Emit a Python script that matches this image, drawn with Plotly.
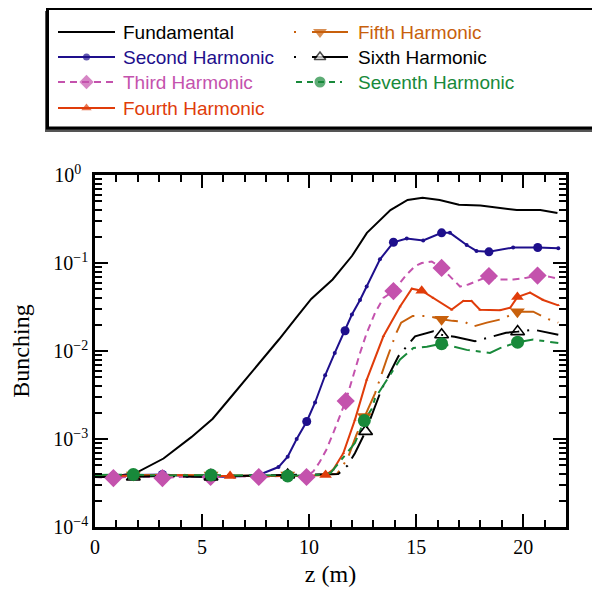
import plotly.graph_objects as go

# ---------------- data ----------------
fund_z = [0, 1.0, 1.9, 3.2, 4.5, 5.5, 6.4, 7.6, 8.6, 9.4, 10.1, 11.1, 12.0, 12.7, 13.8, 14.6,
          15.3, 16.1, 17.0, 18.0, 19.0, 19.7, 20.8, 21.6]
fund_b = [3.7e-4, 3.8e-4, 4.1e-4, 6.0e-4, 1.05e-3, 1.7e-3, 3.1e-3, 6.9e-3, 1.36e-2, 2.4e-2,
          3.9e-2, 6.5e-2, 0.12, 0.22, 0.40, 0.52, 0.55, 0.52, 0.46, 0.45, 0.42, 0.40, 0.40, 0.37]

sec_z = [0, 0.86, 2.0, 3.15, 4.3, 5.4, 6.5, 7.65, 8.57, 9.0, 9.42, 9.89, 10.28, 10.75, 11.2,
         11.68, 12.0, 12.38, 12.69, 13.31, 13.94, 14.56, 15.33, 16.19, 16.58, 17.36, 17.82,
         18.40, 19.53, 20.68, 21.64]
sec_b = [3.9e-4, 3.8e-4, 3.9e-4, 3.95e-4, 3.8e-4, 3.7e-4, 3.75e-4, 3.9e-4, 4.8e-4, 6.3e-4,
         1.0e-3, 1.58e-3, 2.6e-3, 5.3e-3, 9.5e-3, 1.7e-2, 2.6e-2, 3.8e-2, 5.4e-2, 0.11, 0.172,
         0.19, 0.18, 0.22, 0.22, 0.16, 0.137, 0.134, 0.15, 0.15, 0.147]
sec_mz = [0.86, 3.15, 5.4, 7.65, 9.89, 11.68, 13.94, 16.19, 18.40, 20.68]
sec_mb = [3.8e-4, 3.95e-4, 3.7e-4, 3.9e-4, 1.58e-3, 1.7e-2, 0.172, 0.22, 0.134, 0.15]

thi_z = [0, 0.86, 2.0, 3.15, 4.3, 5.4, 6.5, 7.65, 8.8, 9.88, 10.2, 10.5, 10.8, 11.13, 11.71,
         11.99, 12.38, 12.69, 13.08, 13.47, 13.94, 14.56, 14.95, 15.26, 15.73, 16.19, 16.66,
         17.05, 17.44, 17.82, 18.40, 18.92, 19.54, 20.16, 20.67, 21.2, 21.64]
thi_b = [3.7e-4, 3.6e-4, 3.8e-4, 3.6e-4, 3.75e-4, 3.7e-4, 3.8e-4, 3.7e-4, 3.8e-4, 3.7e-4,
         4.3e-4, 5.5e-4, 7.5e-4, 1.17e-3, 2.7e-3, 4.7e-3, 9.5e-3, 1.6e-2, 2.7e-2, 4.0e-2,
         4.8e-2, 0.074, 0.092, 0.100, 0.104, 0.088, 0.068, 0.054, 0.057, 0.062, 0.071, 0.065,
         0.065, 0.068, 0.072, 0.070, 0.066]
thi_mz = [0.86, 3.15, 5.4, 7.65, 9.88, 11.71, 13.94, 16.19, 18.40, 20.67]
thi_mb = [3.6e-4, 3.6e-4, 3.7e-4, 3.7e-4, 3.7e-4, 2.7e-3, 4.8e-2, 0.088, 0.071, 0.072]

fou_z = [0, 1.84, 3.0, 4.2, 5.3, 6.31, 7.5, 8.6, 9.7, 10.77, 11.13, 11.6, 12.14, 12.69, 13.47,
         14.25, 14.8, 15.26, 15.8, 16.66, 17.2, 17.59, 17.98, 18.92, 19.39, 19.73, 20.32, 20.93,
         21.64]
fou_b = [3.8e-4, 3.8e-4, 3.85e-4, 3.9e-4, 3.8e-4, 3.8e-4, 3.8e-4, 3.85e-4, 3.8e-4, 3.9e-4,
         4.5e-4, 6.9e-4, 1.65e-3, 4.7e-3, 1.47e-2, 3.2e-2, 0.051, 0.0485, 0.040, 0.0295, 0.037,
         0.037, 0.0295, 0.029, 0.031, 0.041, 0.046, 0.038, 0.033]
fou_mz = [1.84, 6.31, 10.77, 15.26, 19.73]
fou_mb = [3.8e-4, 3.8e-4, 3.9e-4, 0.0485, 0.041]

fif_z = [0, 1.79, 3.0, 4.2, 5.42, 6.6, 7.8, 9.0, 10.3, 11.3, 11.8, 12.2, 12.58, 13.08, 13.62,
         14.07, 14.3, 14.84, 15.54, 16.19, 16.7, 17.25, 17.67, 18.3, 19.0, 19.73, 20.47, 21.17,
         21.64]
fif_b = [3.8e-4, 3.9e-4, 3.9e-4, 3.85e-4, 3.9e-4, 3.85e-4, 3.8e-4, 3.9e-4, 3.9e-4, 4.0e-4,
         6.0e-4, 1.1e-3, 1.8e-3, 3.3e-3, 8.0e-3, 1.6e-2, 0.021, 0.025, 0.025, 0.023, 0.022,
         0.0216, 0.019, 0.021, 0.023, 0.028, 0.028, 0.023, 0.021]
fif_mz = [1.79, 5.42, 9.0, 12.58, 16.19, 19.73]
fif_mb = [3.9e-4, 3.9e-4, 3.9e-4, 1.8e-3, 0.023, 0.028]

six_z = [0, 1.79, 3.0, 4.2, 5.42, 6.5, 7.65, 9.0, 10.3, 11.36, 11.8, 12.14, 12.64, 13.37, 14.17,
         14.95, 15.8, 16.19, 16.8, 17.75, 18.6, 19.2, 19.74, 20.47, 21.64]
six_b = [3.7e-4, 3.7e-4, 3.8e-4, 3.75e-4, 3.7e-4, 3.8e-4, 3.85e-4, 3.9e-4, 3.9e-4, 4.0e-4,
         5.0e-4, 6.9e-4, 1.22e-3, 3.6e-3, 8.7e-3, 0.0147, 0.0167, 0.0153, 0.0145, 0.0129,
         0.0147, 0.0161, 0.0166, 0.0175, 0.0153]
six_mz = [1.79, 5.42, 9.0, 12.64, 16.19, 19.74]
six_mb = [3.7e-4, 3.7e-4, 3.9e-4, 1.22e-3, 0.0153, 0.0166]

sev_z = [0, 1.79, 3.0, 4.2, 5.42, 6.5, 7.65, 9.0, 10.3, 11.0, 11.6, 12.14, 12.58, 12.93, 13.08,
         14.25, 14.87, 15.5, 16.19, 17.36, 18.45, 18.92, 19.74, 20.47, 21.64]
sev_b = [3.9e-4, 3.95e-4, 3.85e-4, 3.9e-4, 3.9e-4, 3.85e-4, 3.9e-4, 3.8e-4, 3.9e-4, 4.1e-4,
         6.3e-4, 9e-4, 1.62e-3, 2.2e-3, 2.9e-3, 8e-3, 0.0108, 0.0112, 0.0121, 0.0103, 0.0095,
         0.0108, 0.0126, 0.0135, 0.0123]
sev_mz = [1.79, 5.42, 9.0, 12.58, 16.19, 19.74]
sev_mb = [3.95e-4, 3.9e-4, 3.8e-4, 1.62e-3, 0.0121, 0.0126]

x_ticks = [0, 5, 10, 15, 20]
y_ticks = [1e-4, 1e-3, 1e-2, 1e-1, 1]
y_ticktext = ["10<sup>\u22124</sup>", "10<sup>\u22123</sup>", "10<sup>\u22122</sup>",
              "10<sup>\u22121</sup>", "10<sup>0\u2007</sup>"]
y_minor = [m * 10.0 ** e for e in range(-4, 0) for m in range(2, 10)]

# ---------------- layout geometry (page pixels) ----------------
W, H = 600, 591
PAGE_OFF = 8                         # page body margin in the browser
PL, PT, PR, PB = 95, 175, 566, 527   # plot area on the page
X_DOMAIN = [(PL - PAGE_OFF) / W, (PR - PAGE_OFF) / W]
Y_DOMAIN = [(H + PAGE_OFF - PB) / H, (H + PAGE_OFF - PT) / H]
PAGE_X = [PAGE_OFF, PAGE_OFF + W]    # page x-range of the whole figure
PAGE_Y = [PAGE_OFF + H, PAGE_OFF]    # page y-range (bottom, top) of the whole figure

C_FUND = "#000000"
C_SEC = "#1e0f8c"
C_THI = "#c452ad"
C_FOU = "#e03c0a"
C_FIF = "#c8600c"
C_SIX = "#000000"
C_SEV = "#18893a"

series = [
    # name, color, dash, z, b, mz, mb, symbol, msize, small-dot size
    ("Fundamental", C_FUND, "solid", fund_z, fund_b, None, None, None, 0, 0),
    ("Second Harmonic", C_SEC, "solid", sec_z, sec_b, sec_mz, sec_mb, "circle", 9, 4),
    ("Third Harmonic", C_THI, "7px,5px", thi_z, thi_b, thi_mz, thi_mb, "diamond", 14, 0),
    ("Fourth Harmonic", C_FOU, "solid", fou_z, fou_b, fou_mz, fou_mb, "triangle-up", 11, 3),
    ("Fifth Harmonic", C_FIF, "26px,8px,2px,8px", fif_z, fif_b, fif_mz, fif_mb, "triangle-down", 13, 0),
    ("Sixth Harmonic", C_SIX, "26px,8px,2px,8px", six_z, six_b, six_mz, six_mb, "triangle-up-open", 12, 0),
    ("Seventh Harmonic", C_SEV, "16px,6px,5px,6px", sev_z, sev_b, sev_mz, sev_mb, "circle", 13, 0),
]

# legend layout (page pixel positions of the hand-built legend box)
LEG_ROWS = [32, 57, 82, 108]
LEG_COL1 = dict(line=(58, 115), mark=86.5, text=121)
LEG_COL2 = dict(line=(294, 348), mark=320, text=356)
leg_cells = {  # name: (column, row, legend-line dash, legend-line x-span, legend marker size)
    "Fundamental": (LEG_COL1, 0, "solid", LEG_COL1["line"], 0),
    "Second Harmonic": (LEG_COL1, 1, "solid", LEG_COL1["line"], 7),
    "Third Harmonic": (LEG_COL1, 2, "7px,5px", LEG_COL1["line"], 11),
    "Fourth Harmonic": (LEG_COL1, 3, "solid", LEG_COL1["line"], 9),
    "Fifth Harmonic": (LEG_COL2, 0, "2px,16px,60px", LEG_COL2["line"], 12),
    "Sixth Harmonic": (LEG_COL2, 1, "2px,16px,60px", LEG_COL2["line"], 10),
    "Seventh Harmonic": (LEG_COL2, 2, "6px,5px", (296, 342), 11),
}

fig = go.Figure()

for name, col, dash, z, b, mz, mb, sym, ms, sd in series:
    fig.add_trace(go.Scatter(
        x=z, y=b, mode="lines+markers" if sd else "lines",
        line=dict(color=col, width=2, dash=dash),
        marker=dict(size=sd, color=col,
                    symbol="circle" if name == "Second Harmonic" else "triangle-up"),
        showlegend=False, hoverinfo="skip"))

for name, col, dash, z, b, mz, mb, sym, ms, sd in series:
    if mz is None:
        continue
    mk = dict(size=ms, color=col, symbol=sym)
    if sym.endswith("open"):
        mk["line"] = dict(color=col, width=1.6)
    fig.add_trace(go.Scatter(x=mz, y=mb, mode="markers", marker=mk,
                             showlegend=False, hoverinfo="skip"))

# ---------------- hand-built legend (on a full-figure pixel subplot x2/y2) ----------------
shapes = [
    dict(type="rect", xref="x2", yref="y2", x0=45, x1=700, y0=11, y1=132,
         fillcolor="#555555", line=dict(width=0), layer="below"),
    dict(type="rect", xref="x2", yref="y2", x0=47.5, x1=700, y0=8.5, y1=128,
         fillcolor="white", line=dict(color="black", width=3), layer="below"),
]
annotations = []
lm_x, lm_y, lm_sym, lm_col, lm_lcol, lm_lw, lm_size = [], [], [], [], [], [], []
for name, col, dash, z, b, mz, mb, sym, ms, sd in series:
    cell, row, ldash, (lx0, lx1), lsize = leg_cells[name]
    yy = LEG_ROWS[row]
    shapes.append(dict(type="line", xref="x2", yref="y2", x0=lx0, x1=lx1,
                       y0=yy, y1=yy, line=dict(color=col, width=2, dash=ldash),
                       layer="below"))
    annotations.append(dict(text=name, xref="x2", yref="y2", x=cell["text"],
                            y=yy, xanchor="left", yanchor="middle", showarrow=False,
                            font=dict(family="Liberation Sans, Arial, sans-serif", size=19,
                                      color=col)))
    if sym is not None:
        lm_x.append(cell["mark"])
        lm_y.append(yy)
        if sym.endswith("open"):
            lm_sym.append(sym.replace("-open", ""))
            lm_col.append("white")
            lm_lcol.append(col)
            lm_lw.append(1.6)
        else:
            lm_sym.append(sym)
            lm_col.append(col)
            lm_lcol.append(col)
            lm_lw.append(0)
        lm_size.append(lsize)

fig.add_trace(go.Scatter(x=lm_x, y=lm_y, xaxis="x2", yaxis="y2", mode="markers",
                         showlegend=False, hoverinfo="skip",
                         marker=dict(symbol=lm_sym, color=lm_col, size=lm_size,
                                     line=dict(color=lm_lcol, width=lm_lw))))

serif = "Liberation Serif, Times New Roman, serif"
fig.update_layout(
    width=W, height=H,
    margin=dict(l=0, r=0, t=0, b=0, autoexpand=False),
    paper_bgcolor="white", plot_bgcolor="rgba(0,0,0,0)",
    shapes=shapes, annotations=annotations,
    showlegend=False,
    xaxis=dict(domain=X_DOMAIN, anchor="y", range=[0, 22], tickmode="array",
               tickvals=x_ticks, ticks="inside",
               ticklen=13, tickwidth=2, tickcolor="black", showline=True, linewidth=2.5,
               linecolor="black", mirror="ticks", showgrid=False, zeroline=False,
               tickfont=dict(family=serif, size=20, color="black"),
               minor=dict(dtick=1, tick0=0, ticks="inside", ticklen=7, tickwidth=2,
                          tickcolor="black", showgrid=False),
               title=dict(text="z (m)", font=dict(family=serif, size=24, color="black"),
                          standoff=9)),
    yaxis=dict(domain=Y_DOMAIN, anchor="x", type="log", range=[-4, 0], tickmode="array",
               tickvals=y_ticks,
               ticktext=y_ticktext, ticks="inside", ticklen=13, tickwidth=2,
               tickcolor="black", showline=True, linewidth=2.5, linecolor="black",
               mirror="ticks", showgrid=False, zeroline=False,
               tickfont=dict(family=serif, size=20, color="black"),
               minor=dict(tickmode="array", tickvals=y_minor, ticks="inside", ticklen=7,
                          tickwidth=2, tickcolor="black", showgrid=False),
               title=dict(text="Bunching", font=dict(family=serif, size=24, color="black"),
                          standoff=18)),
    xaxis2=dict(domain=[0, 1], anchor="y2", range=PAGE_X, visible=False, fixedrange=True),
    yaxis2=dict(domain=[0, 1], anchor="x2", range=PAGE_Y, visible=False, fixedrange=True),
)

fig.write_html("out.html")
